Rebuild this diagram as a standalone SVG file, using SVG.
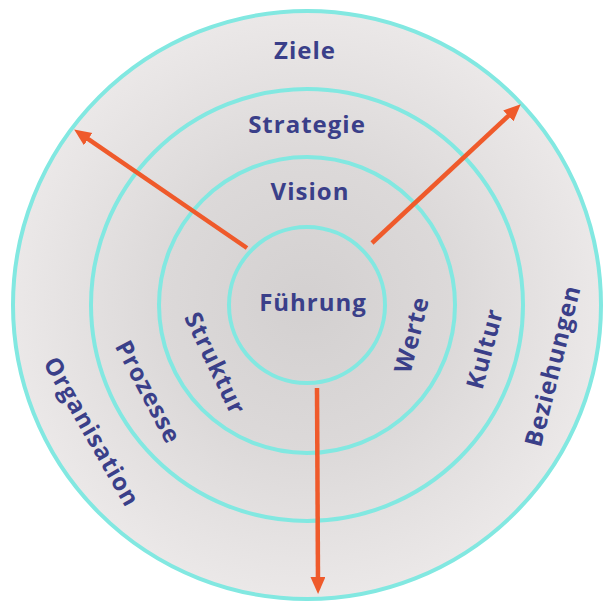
<svg xmlns="http://www.w3.org/2000/svg" width="613" height="606" viewBox="0 0 613 606">
  <defs>
    <radialGradient id="bg" cx="307" cy="305" r="294" gradientUnits="userSpaceOnUse">
      <stop offset="0" stop-color="#d3d0d0"/>
      <stop offset="0.5" stop-color="#dcd9d9"/>
      <stop offset="1" stop-color="#ebe8e8"/>
    </radialGradient>
    <marker id="ah" markerUnits="userSpaceOnUse" markerWidth="18" markerHeight="16" refX="6" refY="7.5" orient="auto">
      <path d="M0,0 L17,7.5 L0,15 z" fill="#ef5a2b"/>
    </marker>
  </defs>
  <style>
    .ring { fill: none; stroke: #82e8e1; stroke-width: 4; }
    .lbl { font-family: "Open Sans", "DejaVu Sans", sans-serif; font-weight: bold; font-size: 24px; fill: #3a3f89; text-anchor: middle; letter-spacing: 1px; }
    .arrow { stroke: #ef5a2b; stroke-width: 4.5; fill: none; marker-end: url(#ah); }
  </style>
  <rect width="613" height="606" fill="#ffffff"/>
  <circle cx="307" cy="305" r="294" fill="url(#bg)"/>

  <g id="ring-outer">
    <circle class="ring" cx="307" cy="305" r="294" stroke-width="3"/>
    <text class="lbl" x="305" y="59">Ziele</text>
    <text class="lbl" transform="translate(90.5,432.5) rotate(60.2)" x="0" y="7">Organisation</text>
    <text class="lbl" transform="translate(554,366) rotate(-76)" x="0" y="7">Beziehungen</text>
  </g>

  <g id="ring-2">
    <circle class="ring" cx="307" cy="305" r="216"/>
    <text class="lbl" x="307" y="133">Strategie</text>
    <text class="lbl" transform="translate(147,392.5) rotate(62.2)" x="0" y="7">Prozesse</text>
    <text class="lbl" transform="translate(486,349) rotate(-75)" x="0" y="7">Kultur</text>
  </g>

  <g id="ring-3">
    <circle class="ring" cx="307" cy="305" r="148"/>
    <text class="lbl" x="310" y="200">Vision</text>
    <text class="lbl" transform="translate(214,364) rotate(64.4)" x="0" y="7">Struktur</text>
    <text class="lbl" transform="translate(413,335) rotate(-75.9)" x="0" y="7">Werte</text>
  </g>

  <g id="center">
    <circle class="ring" cx="307" cy="305" r="78"/>
    <text class="lbl" x="313" y="311">Führung</text>
  </g>

  <g id="connectors">
    <line class="arrow" x1="247" y1="248" x2="83.2" y2="135.7"/>
    <line class="arrow" x1="372" y1="243" x2="512.7" y2="111.8"/>
    <line class="arrow" x1="317" y1="388" x2="318" y2="583"/>
  </g>
</svg>
